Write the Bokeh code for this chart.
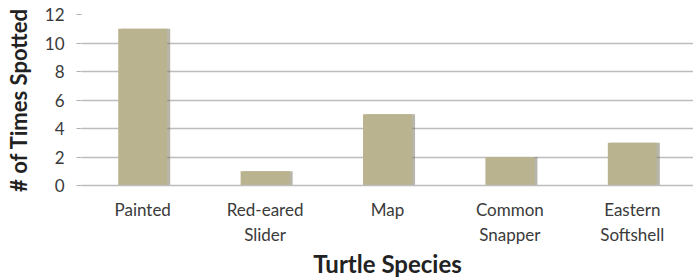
from bokeh.plotting import figure
from bokeh.models import ColumnDataSource, FixedTicker
from bokeh.embed import file_html
from bokeh.resources import INLINE
from bokeh.transform import dodge

species = ["Painted", "Red-eared\nSlider", "Map", "Common\nSnapper", "Eastern\nSoftshell"]
counts = [11, 1, 5, 2, 3]
y_ticks = [0, 2, 4, 6, 8, 10, 12]

src = ColumnDataSource(dict(species=species, counts=counts))

p = figure(x_range=species, y_range=(0, 12), width=693, height=280,
           output_backend="svg", toolbar_location=None,
           min_border_left=81, min_border_right=0, min_border_top=14, min_border_bottom=94)
p.outline_line_color = None
p.background_fill_color = "white"

# shadow
p.vbar(x=dodge("species", 0.025, range=p.x_range), top="counts", width=0.4, source=src,
       fill_color="#7d7a66", fill_alpha=0.55, line_color=None)
p.vbar(x="species", top="counts", width=0.4, source=src,
       fill_color="#bab38f", line_color=None)

p.yaxis.ticker = FixedTicker(ticks=y_ticks)
p.ygrid.grid_line_color = "#bdbdbd"
p.ygrid.grid_line_width = 1.5
p.xgrid.grid_line_color = None

p.yaxis.axis_line_color = None
p.yaxis.major_tick_line_color = "#b0b0b0"
p.yaxis.major_tick_out = 5
p.yaxis.major_tick_in = 0
p.yaxis.minor_tick_line_color = None
p.yaxis.major_label_text_font = "Lato"
p.yaxis.major_label_text_font_size = "17px"
p.yaxis.major_label_text_color = "#3a3a3a"
p.yaxis.major_label_standoff = 12
p.yaxis.axis_label = "# of Times Spotted"
p.yaxis.axis_label_text_font = "Lato"
p.yaxis.axis_label_text_font_style = "bold"
p.yaxis.axis_label_text_font_size = "22px"
p.yaxis.axis_label_text_color = "#222222"
p.yaxis.axis_label_standoff = 10

p.xaxis.axis_line_color = "#bdbdbd"
p.xaxis.axis_line_width = 1.5
p.xaxis.major_tick_line_color = None
p.xaxis.major_tick_out = 0
p.xaxis.major_tick_in = 0
p.xaxis.major_label_text_font = "Lato"
p.xaxis.major_label_text_font_size = "17px"
p.xaxis.major_label_text_color = "#3a3a3a"
p.xaxis.major_label_standoff = 13
p.xaxis.axis_label = "Turtle Species"
p.xaxis.axis_label_text_font = "Lato"
p.xaxis.axis_label_text_font_style = "bold"
p.xaxis.axis_label_text_font_size = "24px"
p.xaxis.axis_label_text_color = "#222222"
p.xaxis.axis_label_standoff = 1

open("out.html", "w").write(file_html(p, INLINE))
